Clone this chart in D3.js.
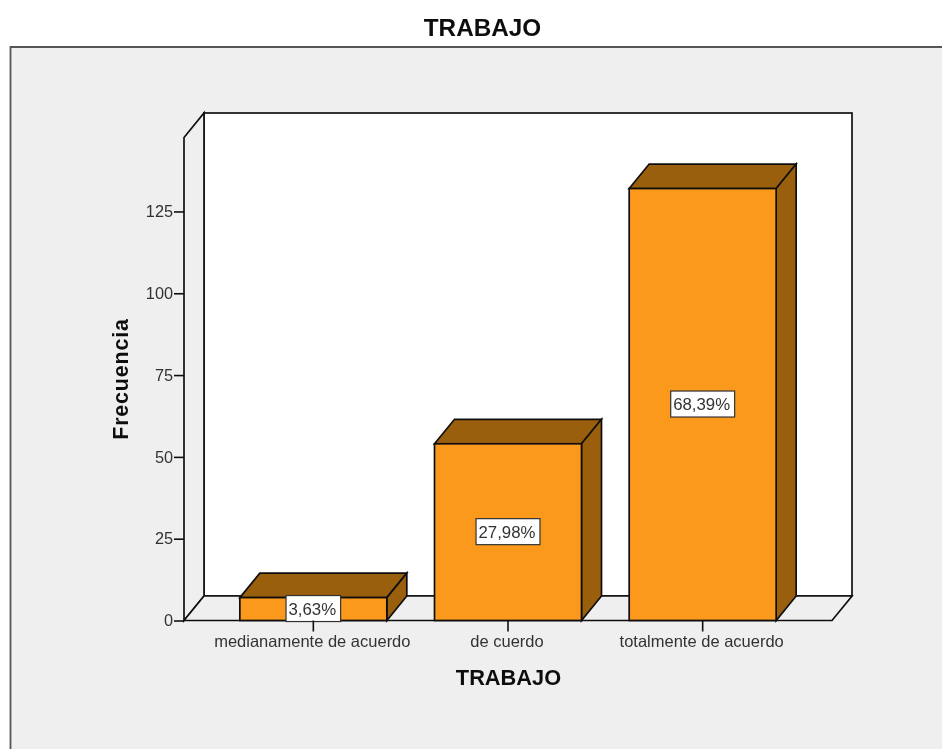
<!DOCTYPE html>
<html>
<head>
<meta charset="utf-8">
<script src="https://cdn.jsdelivr.net/npm/d3@7"></script>
<style>
html,body{margin:0;padding:0;background:#fff;overflow:hidden}
svg{display:block}
text{font-family:"Liberation Sans",Arial,sans-serif;fill:#333}
</style>
</head>
<body>
<script>
const categories = ["medianamente de acuerdo", "de cuerdo", "totalmente de acuerdo"];
const frequencies = [7, 54, 132];
const percentLabels = ["3,63%", "27,98%", "68,39%"];
const yTicks = [0, 25, 50, 75, 100, 125];
const chartTitle = "TRABAJO";
const xTitle = "TRABAJO";
const yTitle = "Frecuencia";

const W = 942, H = 749;
const dx = 20, dy = -24.5;
const floorLeft = 184, floorRight = 832, floorY = 620.5, topY = 137.5;

const svg = d3.select("body").append("svg").attr("width", W).attr("height", H);
const defs = svg.append("defs");
defs.append("filter").attr("id", "soft").attr("x", "-5%").attr("y", "-5%").attr("width", "110%").attr("height", "110%")
  .append("feGaussianBlur").attr("stdDeviation", 0.45);
const root = svg.append("g").attr("filter", "url(#soft)");

const y = d3.scaleLinear().domain([0, 147.6]).range([floorY, topY]);
const x = d3.scaleBand().domain(categories).range([216, 800]).paddingInner(0.245).paddingOuter(0.1225);

// frame
root.append("rect").attr("x", 0).attr("y", 0).attr("width", W).attr("height", H).attr("fill", "#fff");
root.append("path").attr("d", `M10.5,${H + 2}V47H${W + 2}V${H + 2}Z`).attr("fill", "#efefef").attr("stroke", "#555").attr("stroke-width", 1.8);

root.append("text").attr("x", 482.5).attr("y", 36).attr("text-anchor", "middle").style("fill", "#111")
  .attr("font-size", 24.3).attr("font-weight", 700).text(chartTitle);

// walls
const line = { stroke: "#111", "stroke-width": 1.7, "stroke-linejoin": "miter" };
const applyLine = s => { Object.entries(line).forEach(([k, v]) => s.attr(k, v)); return s; };
applyLine(root.append("rect")).attr("x", floorLeft + dx).attr("y", topY + dy)
  .attr("width", floorRight - floorLeft).attr("height", floorY - topY).attr("fill", "#fff");
applyLine(root.append("path")).attr("fill", "#efefef")
  .attr("d", `M${floorLeft},${floorY}V${topY}L${floorLeft + dx},${topY + dy}V${floorY + dy}Z`);
applyLine(root.append("path")).attr("fill", "#efefef")
  .attr("d", `M${floorLeft},${floorY}H${floorRight}L${floorRight + dx},${floorY + dy}H${floorLeft + dx}Z`);

// bars
const bars = root.append("g").selectAll("g").data(categories.map((c, i) => ({ c, v: frequencies[i], p: percentLabels[i] })))
  .join("g");
bars.each(function (d) {
  const g = d3.select(this);
  const x0 = x(d.c), x1 = x0 + x.bandwidth(), yt = y(d.v), yb = y(0);
  applyLine(g.append("path")).attr("fill", "#9a5e10")
    .attr("d", `M${x0},${yt}L${x0 + dx},${yt + dy}H${x1 + dx}L${x1},${yt}Z`);
  applyLine(g.append("path")).attr("fill", "#9a5e10")
    .attr("d", `M${x1},${yt}L${x1 + dx},${yt + dy}V${yb + dy}L${x1},${yb}Z`);
  applyLine(g.append("rect")).attr("x", x0).attr("y", yt).attr("width", x1 - x0).attr("height", yb - yt)
    .attr("fill", "#fb991f");
});

// axes
const yAxis = d3.axisLeft(y).tickValues(yTicks).tickSize(10).tickPadding(1);
const yG = root.append("g").attr("transform", `translate(${floorLeft},0)`).call(yAxis);
yG.select(".domain").remove();
yG.selectAll("line").attr("stroke", "#111").attr("stroke-width", 1.6);
yG.selectAll("text").attr("font-size", 16.3).attr("fill", "#333").style("font-family", '"Liberation Sans",Arial,sans-serif');

const xAxis = d3.axisBottom(x).tickSize(11).tickPadding(4);
const xG = root.append("g").attr("transform", `translate(0,${floorY})`).call(xAxis);
xG.select(".domain").remove();
xG.selectAll("line").attr("stroke", "#111").attr("stroke-width", 1.6);
xG.selectAll("text").attr("font-size", 16.5).attr("dx", -1).attr("fill", "#333").style("font-family", '"Liberation Sans",Arial,sans-serif');

// percent labels
bars.each(function (d) {
  const g = d3.select(this);
  const cx = x(d.c) + x.bandwidth() / 2, cy = (y(d.v) + y(0)) / 2 - 0.5;
  const t = g.append("text").attr("x", cx - 1).attr("y", cy + 6).attr("text-anchor", "middle").attr("font-size", 16.8).text(d.p);
  const w = 7 + t.node().getComputedTextLength();
  g.insert("rect", "text").attr("x", cx - w / 2).attr("y", cy - 13).attr("width", w).attr("height", 26)
    .attr("fill", "#fff").attr("stroke", "#333").attr("stroke-width", 1.2);
});

root.append("text").attr("x", 508.5).attr("y", 685).attr("text-anchor", "middle").style("fill", "#111")
  .attr("font-size", 21.8).attr("font-weight", 700).text(xTitle);
root.append("text").attr("transform", "translate(127.5,379) rotate(-90)").attr("text-anchor", "middle").style("fill", "#111")
  .attr("font-size", 21.5).attr("font-weight", 700).attr("letter-spacing", 0.8).text(yTitle);
</script>
</body>
</html>
